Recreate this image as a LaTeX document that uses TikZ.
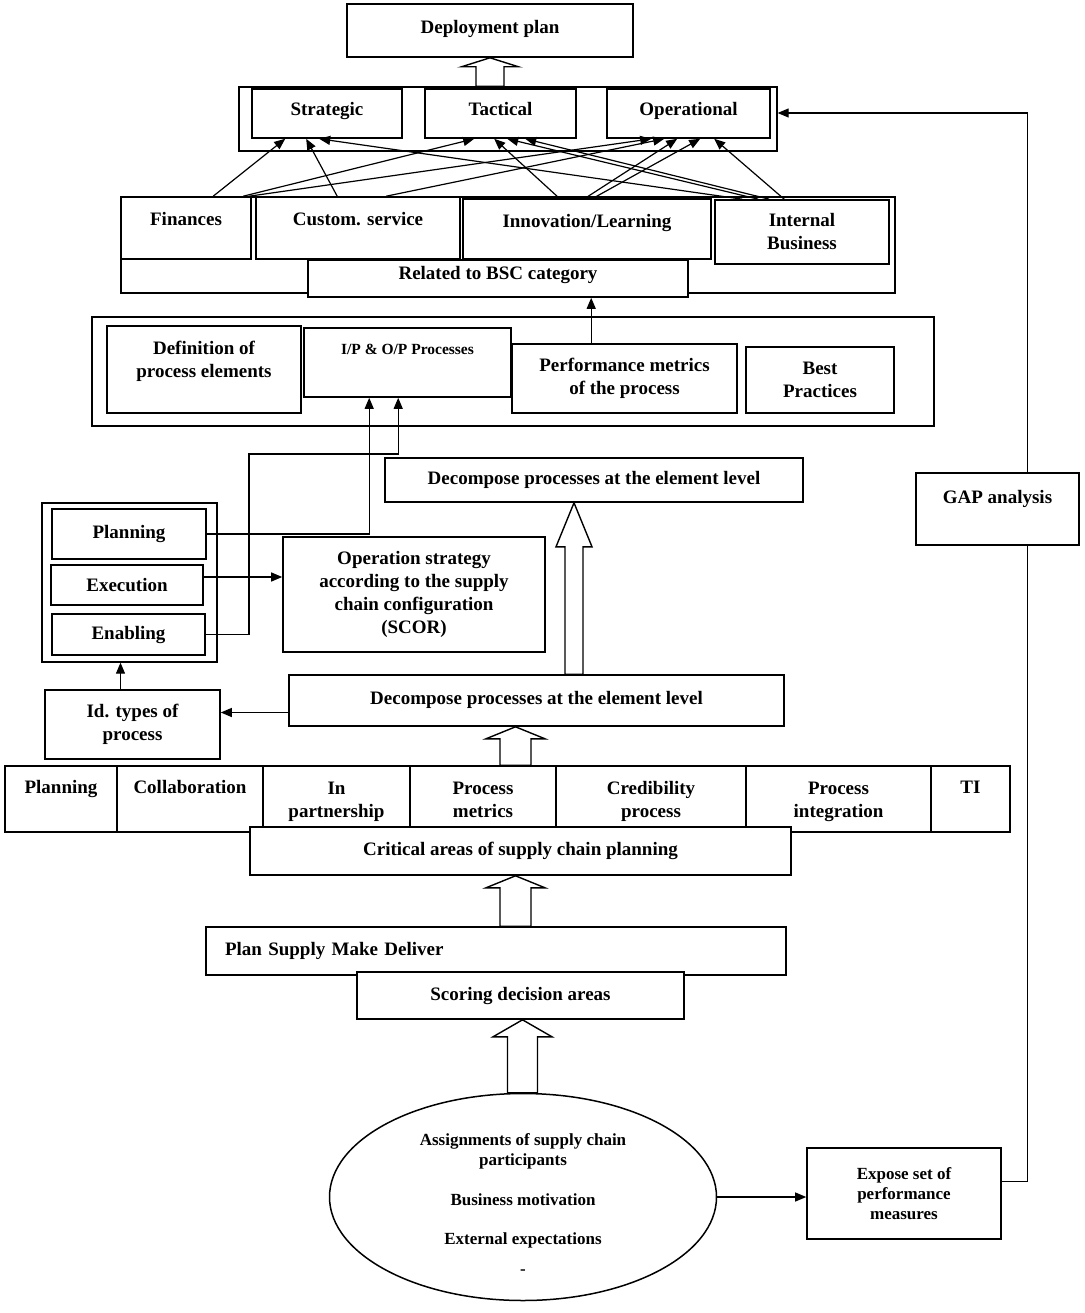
\documentclass[tikz,border=0pt]{standalone}
\usepackage{fontspec}
\setmainfont{Liberation Serif}
\usetikzlibrary{arrows.meta, shapes.geometric, calc}

\tikzset{
  box/.style={draw, line width=1.6pt, fill=white, inner sep=1pt, align=center,
              font=\bfseries\fontsize{19}{23}\selectfont},
  smallbox/.style={box, font=\bfseries\fontsize{17}{20}\selectfont},
  groupbox/.style={draw, line width=1.3pt, inner sep=0pt},
  txtup/.style 2 args={text height=#1, text depth=#2},
  conn/.style={line width=1.2pt},
  arr/.style={conn, -{Triangle[length=11pt, width=9pt]}},
  blockarr/.style n args={3}{draw, fill=white, line width=1.4pt,
    to path={let \p1=(\tikztostart), \p2=(\tikztotarget) in
      ({\x1-#1},\y1) -- ({\x1-#1},{\y2-#3}) -- ({\x1-#2},{\y2-#3}) -- (\x1,\y2)
      -- ({\x1+#2},{\y2-#3}) -- ({\x1+#1},{\y2-#3}) -- ({\x1+#1},\y1) -- cycle}},
}

\begin{document}
\begin{tikzpicture}[x=1pt, y=-1pt]
  \useasboundingbox (0,0) rectangle (1084,1313);

  % group frames behind
  \node[groupbox, minimum width=538pt, minimum height=64pt] (stoframe) at (508,119) {};
  \node[groupbox, minimum width=774pt, minimum height=96pt] (bscframe) at (508,245) {};
  \node[groupbox, minimum width=842pt, minimum height=109pt] (procframe) at (513,371.5) {};
  \node[groupbox, minimum width=175pt, minimum height=159pt] (tierframe) at (129.5,582.5) {};

  % deployment and planning levels
  \node[box, txtup={13pt}{7pt}, minimum width=286pt, minimum height=53pt] (deploy) at (490,30.5) {Deployment plan};
  \node[box, txtup={13pt}{9pt}, minimum width=150pt, minimum height=49pt] (strat) at (327,113.5) {Strategic};
  \node[box, txtup={13pt}{9pt}, minimum width=151pt, minimum height=49pt] (tact) at (500.5,113.5) {Tactical};
  \node[box, txtup={13pt}{9pt}, minimum width=163pt, minimum height=49pt] (oper) at (688.5,113.5) {Operational};

  % BSC categories
  \node[box, txtup={13pt}{18pt}, minimum width=130pt, minimum height=62pt] (fin) at (186,228) {Finances};
  \node[box, txtup={13pt}{18pt}, minimum width=204pt, minimum height=62pt] (cust) at (358,228) {Custom. service};
  \node[box, txtup={13pt}{16pt}, minimum width=248pt, minimum height=60pt] (innov) at (587,229) {Innovation/Learning};
  \node[box, minimum width=174pt, minimum height=64pt] (intbus) at (802,232) {Internal\\Business};
  \node[box, txtup={13pt}{11pt}, minimum width=380pt, minimum height=37pt] (bsc) at (498,278.5) {Related to BSC category};

  % process elements
  \node[box, txtup={36pt}{20pt}, minimum width=194pt, minimum height=87pt] (defel) at (204,369.5) {Definition of\\process elements};
  \node[box, txtup={13pt}{29pt}, minimum width=207pt, minimum height=69pt,
        font=\bfseries\fontsize{15.5}{18}\selectfont] (iop) at (407.5,362.5) {I/P \& O/P Processes};
  \node[box, minimum width=225pt, minimum height=69pt] (perf) at (624.5,378.5) {Performance metrics\\of the process};
  \node[box, minimum width=148pt, minimum height=66pt] (best) at (820,380) {Best\\Practices};

  \node[box, minimum width=418pt, minimum height=44pt] (decup) at (594,480) {Decompose processes at the element level};
  \node[box, txtup={13pt}{24pt}, minimum width=163pt, minimum height=72pt] (gap) at (997.5,509) {GAP analysis};

  % process types
  \node[box, minimum width=154pt, minimum height=50pt] (tplan) at (129,534) {Planning};
  \node[box, minimum width=152pt, minimum height=40pt] (texec) at (127,585) {Execution};
  \node[box, minimum width=153pt, minimum height=41pt] (tenab) at (128.5,634.5) {Enabling};
  \node[box, minimum width=262pt, minimum height=115pt] (opstrat) at (414,594.5)
    {Operation strategy\\according to the supply\\chain configuration\\(SCOR)};

  \node[box, txtup={13pt}{5pt}, minimum width=495pt, minimum height=51pt] (declow) at (536.5,700.5) {Decompose processes at the element level};
  \node[box, minimum width=175pt, minimum height=69pt] (idtypes) at (132.5,724.5) {Id. types of\\process};

  % critical areas
  \node[box, txtup={13pt}{24pt}, minimum width=112pt, minimum height=66pt] (aplan) at (61,799) {Planning};
  \node[box, txtup={13pt}{24pt}, minimum width=146pt, minimum height=66pt] (acollab) at (190,799) {Collaboration};
  \node[box, txtup={36pt}{0pt}, minimum width=147pt, minimum height=66pt] (apart) at (336.5,799) {In\\partnership};
  \node[box, txtup={36pt}{0pt}, minimum width=146pt, minimum height=66pt] (ametr) at (483,799) {Process\\metrics};
  \node[box, txtup={36pt}{0pt}, minimum width=190pt, minimum height=66pt] (acred) at (651,799) {Credibility\\process};
  \node[box, txtup={36pt}{0pt}, minimum width=185pt, minimum height=66pt] (ainteg) at (838.5,799) {Process\\integration};
  \node[box, txtup={13pt}{25pt}, minimum width=79pt, minimum height=66pt] (ati) at (970.5,799) {TI};
  \node[box, minimum width=541pt, minimum height=48pt] (crit) at (520.5,851) {Critical areas of supply chain planning};

  \node[box, align=left, text width=542pt, inner xsep=19pt, minimum height=48pt] (psmd) at (496,951) {Plan Supply Make Deliver};
  \node[box, minimum width=327pt, minimum height=47pt] (scoring) at (520.5,995.5) {Scoring decision areas};

  % goals and measures
  \node[draw, line width=1.5pt, ellipse, minimum width=387pt, minimum height=207pt] (goals) at (523,1197) {};
  \node[align=center, font=\bfseries\fontsize{17}{20}\selectfont] (goaltext) at (523,1204)
    {Assignments of supply chain\\participants\\[20pt]Business motivation\\[19pt]External expectations\\[10pt]-};
  \node[smallbox, minimum width=194pt, minimum height=91pt] (expose) at (904,1193.5) {Expose set of\\performance\\measures};

  % BSC categories feeding the planning levels
  \foreach \src/\sx/\dst/\dx in {fin/93/strat/34, fin/123/tact/50, fin/129/oper/45,
      cust/82/strat/55, cust/131/oper/58, innov/97/tact/70, innov/123/oper/71,
      innov/131/oper/94, intbus/70/oper/108, intbus/28/strat/68,
      intbus/44/tact/83, intbus/55/tact/101}
    \draw[arr] ([xshift=\sx pt]\src.north west) -- ([xshift=\dx pt]\dst.south west);

  % thin connectors
  \coordinate (perfup) at ([xshift=80pt]perf.north west);
  \draw[arr] (perfup) -- (perfup |- bsc.south);
  \coordinate (iopin1) at ([xshift=66pt]iop.south west);
  \coordinate (iopin2) at ([xshift=95pt]iop.south west);
  \coordinate (enabturn) at (249,454);
  \draw[arr] (tplan.east) -| (iopin1);
  \draw[arr] (tenab.east) -| (enabturn) -| (iopin2);
  \coordinate (exeout) at ([yshift=8pt]texec.east);
  \draw[arr] (exeout) -- (exeout -| opstrat.west);
  \coordinate (decout) at ([yshift=-12pt]declow.west);
  \draw[arr] (decout) -- (decout -| idtypes.east);
  \coordinate (idup) at ([xshift=-12pt]idtypes.north);
  \draw[arr] (idup) -- (idup |- tierframe.south);
  \draw[arr] (goals.east) -- (goals.east -| expose.west);
  % feedback loop
  \coordinate (expout) at ([yshift=12pt]expose.east);
  \coordinate (gapdown) at ([xshift=30pt]gap.south);
  \coordinate (gapup) at ([xshift=30pt]gap.north);
  \coordinate (stoin) at ([yshift=6pt]stoframe.east);
  \draw[conn] (expout) -| (gapdown);
  \draw[arr] (gapup) |- (stoin);

  % block arrows
  \draw[blockarr={14pt}{28.5pt}{9pt}] (stoframe.north -| deploy.south) to (deploy.south);
  \draw[blockarr={9pt}{18pt}{44pt}] (574,0 |- declow.north) to (574,0 |- decup.south);
  \draw[blockarr={15.5pt}{29.5pt}{12pt}] (515.5,0 |- ametr.north) to (515.5,0 |- declow.south);
  \draw[blockarr={15.5pt}{29.5pt}{12pt}] (515.5,0 |- psmd.north) to (515.5,0 |- crit.south);
  \draw[blockarr={15pt}{29.5pt}{17pt}] (522.5,0 |- goals.north) to (522.5,0 |- scoring.south);
\end{tikzpicture}
\end{document}
